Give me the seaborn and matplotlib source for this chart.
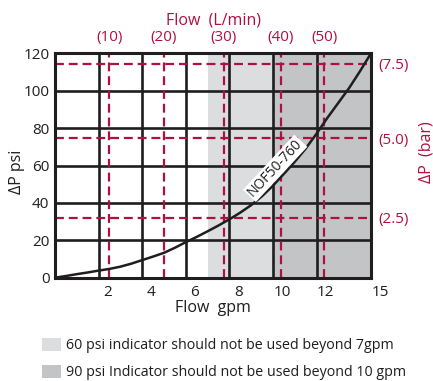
import matplotlib
matplotlib.use('Agg')
import matplotlib.pyplot as plt
import matplotlib.transforms as mtransforms
from matplotlib.patches import Patch
import seaborn as sns
import pandas as pd

# pressure drop curve NOF50-760 (x in chart gpm units, right edge labelled 15)
flow_gpm = [0, 0.5, 1, 1.5, 2, 2.5, 3, 3.5, 4, 4.5, 5, 5.5, 6, 6.5, 7, 7.5,
            8, 8.5, 9, 9.5, 10, 10.5, 11, 11.5, 12, 12.5, 13, 13.5, 14, 14.5]
dp_psi = [0, 0.9, 1.9, 2.8, 3.8, 4.7, 5.9, 7.5, 9.4, 11.3, 13.3, 16.0, 19.0, 21.8, 24.8, 27.9,
          31.2, 34.8, 38.8, 43.6, 49.2, 55.5, 62.0, 69.0, 77.0, 85.5, 93.5, 101.5, 110.5, 120]

x_tick_pos = [2, 4, 6, 8, 10, 12, 14.5]
x_tick_labels = ['2', '4', '6', '8', '10', '12', '15']
y_ticks = [0, 20, 40, 60, 80, 100, 120]

# secondary scales (dashed guide lines)
lmin_pos = [2.5, 5.0, 7.75, 10.35, 12.35]
lmin_labels = ['(10)', '(20)', '(30)', '(40)', '(50)']
bar_pos = [32, 74.5, 114.5]
bar_labels = ['(2.5)', '(5.0)', '(7.5)']

# indicator limits, gpm
indicator_limits = [7, 10]
legend_labels = ['60 psi indicator should not be used beyond 7gpm',
                 '90 psi Indicator should not be used beyond 10 gpm']
shade_colors = ['#dcdddf', '#c3c4c6']

red = '#b0103f'
ink = '#1f1d1e'

sns.set_style('white')
plt.rcParams['font.family'] = ['Open Sans', 'DejaVu Sans']

fig = plt.figure(figsize=(4.33, 3.81), dpi=100)
ax = fig.add_axes([55 / 433, 1 - 277.7 / 381, (371 - 55) / 433, (277.7 - 53.3) / 381])

xmax = x_tick_pos[-1]
ax.set_xlim(0, xmax)
ax.set_ylim(0, 120)

for lim, col in zip(indicator_limits, shade_colors):
    ax.axvspan(lim, xmax, color=col, lw=0, zorder=0)

for x in x_tick_pos[:-1]:
    ax.axvline(x, color=ink, lw=1.9, zorder=1)
for y in y_ticks[1:-1]:
    ax.axhline(y, color=ink, lw=1.9, zorder=1)

for x in lmin_pos:
    ax.axvline(x, color=red, lw=1.6, dashes=(4, 2.2), zorder=2)
for y in bar_pos:
    ax.axhline(y, color=red, lw=1.6, dashes=(4, 2.2), zorder=2)

df = pd.DataFrame({'flow': flow_gpm, 'dp': dp_psi})
sns.lineplot(data=df, x='flow', y='dp', color=ink, lw=1.8, ax=ax, zorder=4)

ax.text(10.1, 58.5, 'NOF50-760', rotation=47, ha='center', va='center', fontsize=10,
        color=ink, zorder=5,
        bbox=dict(boxstyle='square,pad=0.1', fc='white', ec='none'))

for s in ax.spines.values():
    s.set_color(ink)
    s.set_linewidth(2.2)
    s.set_zorder(6)

ax.set_xticks(x_tick_pos)
ax.set_xticklabels(x_tick_labels)
ax.set_yticks(y_ticks)
ax.tick_params(axis='both', length=0, labelsize=11, colors=ink)
ax.tick_params(axis='x', pad=5)
ax.tick_params(axis='y', pad=4)
shift = mtransforms.ScaledTranslation(9 / 100, 0, fig.dpi_scale_trans)
for lbl in ax.get_xticklabels():
    lbl.set_transform(lbl.get_transform() + shift)
ax.set_xlabel('Flow  gpm', fontsize=11.5, color=ink, labelpad=0)
ax.set_ylabel('ΔP psi', fontsize=11.5, color=ink)
ax.yaxis.set_label_coords(-0.095, 0.471)

top = ax.twiny()
top.set_xlim(ax.get_xlim())
top.set_xticks(lmin_pos)
top.set_xticklabels(lmin_labels)
top.tick_params(axis='x', length=0, labelsize=11, colors=red, pad=6)
top.set_xlabel('Flow  (L/min)', fontsize=11.5, color=red, labelpad=4)
for s in top.spines.values():
    s.set_visible(False)

right = ax.twinx()
right.set_ylim(ax.get_ylim())
right.set_yticks(bar_pos)
right.set_yticklabels(bar_labels)
right.tick_params(axis='y', length=0, labelsize=11, colors=red, pad=5)
for s in right.spines.values():
    s.set_visible(False)
right.set_ylabel('ΔP  (bar)', fontsize=11.5, color=red)
right.yaxis.set_label_coords(1.149, 0.56)

handles = [Patch(facecolor=c, edgecolor='none') for c in shade_colors]
fig.legend(handles, legend_labels, loc='upper left',
           bbox_to_anchor=(42 / 433, 1 - 338 / 381), frameon=False,
           fontsize=10.25, handlelength=1.35, handleheight=1.05,
           handletextpad=0.36, labelspacing=0.8, borderpad=0, borderaxespad=0,
           labelcolor=ink)

fig.savefig('out.png', dpi=100)
